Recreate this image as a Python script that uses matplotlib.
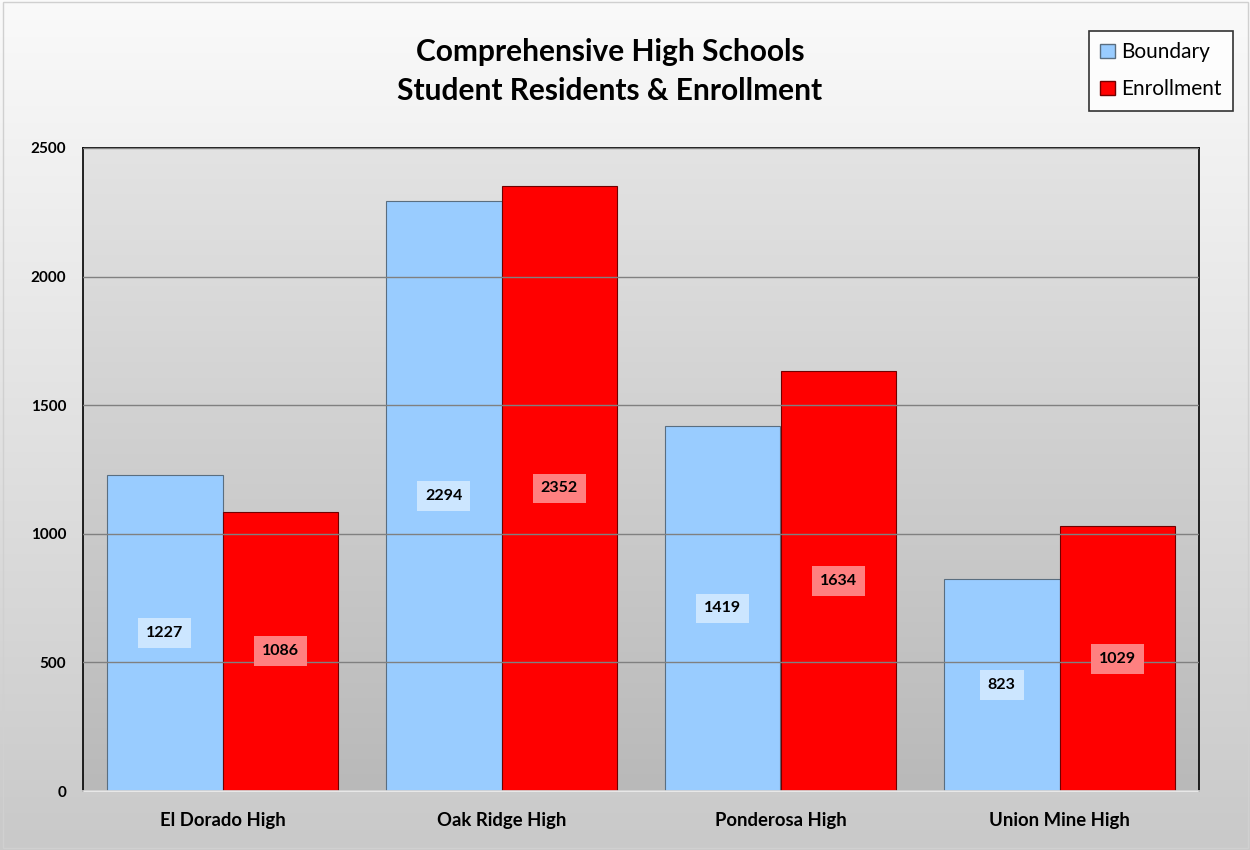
import numpy as np
import matplotlib.pyplot as plt
from matplotlib.patches import Patch

plt.rcParams['font.family'] = ['Lato', 'DejaVu Sans']

schools = ['El Dorado High', 'Oak Ridge High', 'Ponderosa High', 'Union Mine High']
boundary = [1227, 2294, 1419, 823]
enrollment = [1086, 2352, 1634, 1029]

blue = '#99ccff'
red = '#ff0000'

fig = plt.figure(figsize=(12.5, 8.5), dpi=100)

# figure background gradient
bg = fig.add_axes([0, 0, 1, 1], zorder=-10)
grad = np.linspace(0, 1, 256).reshape(-1, 1)
bg.imshow(grad, aspect='auto', cmap=plt.matplotlib.colors.LinearSegmentedColormap.from_list(
    'g', ['#fafafa', '#c9c9c9']), extent=[0, 1, 0, 1], origin='upper')
bg.set_xlim(0, 1)
bg.set_ylim(0, 1)
bg.axis('off')
bg.add_patch(plt.Rectangle((0.002, 0.002), 0.996, 0.996, fill=False, ec='#d0d0d0', lw=1))

ax = fig.add_axes([0.0664, 0.0694, 0.8928, 0.7566])
ax.set_xlim(-0.5, 3.5)
ax.set_ylim(0, 2500)
cm2 = plt.matplotlib.colors.LinearSegmentedColormap.from_list('p', ['#e3e3e3', '#b9b9b9'])
ax.imshow(grad, aspect='auto', cmap=cm2, extent=[-0.5, 3.5, 0, 2500], origin='upper', zorder=0)

ax.set_yticks([0, 500, 1000, 1500, 2000, 2500])
ax.yaxis.grid(True, color='#808080', lw=1, zorder=1)
ax.set_axisbelow(False)

x = np.arange(len(schools))
w = 0.415
b1 = ax.bar(x - w / 2, boundary, w, color=blue, edgecolor='#5a6e80', lw=0.8, zorder=2, label='Boundary')
b2 = ax.bar(x + w / 2, enrollment, w, color=red, edgecolor='#700000', lw=0.8, zorder=2, label='Enrollment')

for xi, v in zip(x - w / 2, boundary):
    ax.text(xi, v / 2, str(v), ha='center', va='center', fontsize=11.5, fontweight='bold', zorder=3,
            bbox=dict(boxstyle='square,pad=0.5', fc='#cce6ff', ec='none'))
for xi, v in zip(x + w / 2, enrollment):
    ax.text(xi, v / 2, str(v), ha='center', va='center', fontsize=11.5, fontweight='bold', zorder=3,
            bbox=dict(boxstyle='square,pad=0.5', fc='#ff8080', ec='none'))

ax.set_xticks(x)
ax.set_xticklabels(schools, fontsize=13.3, fontweight='bold')
for lab in ax.get_yticklabels():
    lab.set_fontsize(11)
    lab.set_fontweight('bold')
ax.tick_params(length=0, pad=12, axis='y')
ax.tick_params(length=0, pad=15, axis='x')

for s in ['left', 'top', 'right']:
    ax.spines[s].set_color('black')
    ax.spines[s].set_linewidth(1.2)
ax.spines['bottom'].set_color('#eeeeee')
ax.spines['bottom'].set_linewidth(1.2)

fig.text(0.488, 0.916, 'Comprehensive High Schools\nStudent Residents & Enrollment',
         ha='center', va='center', fontsize=21.5, fontweight='bold', linespacing=1.45)

handles = [Patch(fc=blue, ec='#5a6e80', label='Boundary'), Patch(fc=red, ec='#700000', label='Enrollment')]
leg = fig.legend(handles=handles, loc='upper right', bbox_to_anchor=(0.9864, 0.9635), fontsize=15,
                 frameon=True, fancybox=False, handlelength=0.7, handleheight=0.7, handletextpad=0.3,
                 labelspacing=0.8, borderpad=0.55, borderaxespad=0)
leg.get_frame().set_edgecolor('black')
leg.get_frame().set_facecolor('white')
leg.get_frame().set_linewidth(1.2)

fig.savefig('out.png', dpi=100)
